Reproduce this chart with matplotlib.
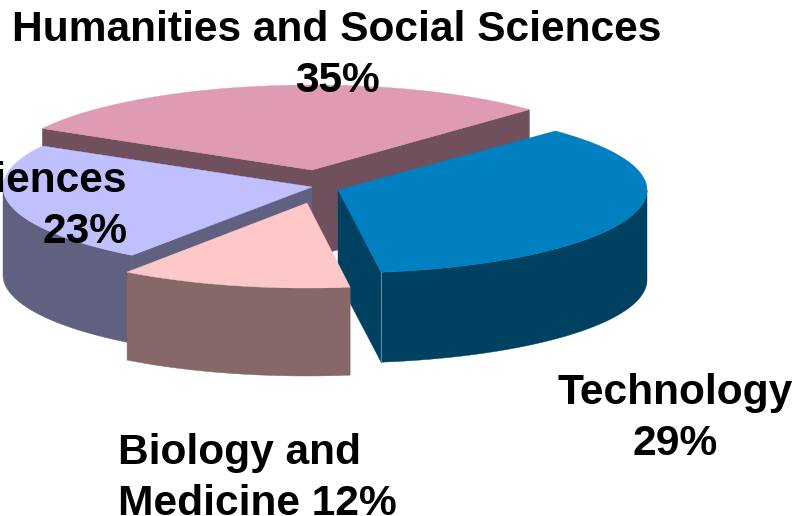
import numpy as np
import matplotlib
matplotlib.use("Agg")
import matplotlib.pyplot as plt
from matplotlib.patches import Polygon

# slice sizes as drawn, counter clockwise from the back right edge
slice_names = ["Humanities", "Sciences", "Biology", "Technology"]
slice_sizes = [29, 23, 12, 35]

# label text as printed in the chart
label_humanities = ["Humanities and Social Sciences", "35%"]
label_sciences = ["Natural Sciences", "23%"]
label_biology = ["Biology and", "Medicine 12%"]
label_technology = ["Technology", "29%"]

top_colors = ["#DF9AB4", "#C0C0FF", "#FFC8C8", "#0080C0"]
wall_colors = ["#6F505C", "#606080", "#866868", "#004060"]

# pixel layout of the exploded pie
centers = [(312, 170), (312, 187), (307, 203), (338, 190)]
radii_y = [85, 84, 85, 83]
depths = [87, 88, 88, 90]
RX = 309
START = 45.3

plt.rcParams["font.family"] = ["Liberation Sans", "DejaVu Sans"]
fig = plt.figure(figsize=(7.96, 5.16), dpi=100)
ax = fig.add_axes([0, 0, 1, 1])
ax.set_xlim(0, 796)
ax.set_ylim(516, 0)
ax.axis("off")


def rim(i, t0, t1):
  c = centers[i]
  t = np.radians(np.linspace(t0, t1, max(int(abs(t1 - t0)) * 2, 2)))
  return np.column_stack([c[0] + RX * np.cos(t), c[1] - radii_y[i] * np.sin(t)])


def wall(i, pts):
  low = pts[::-1] + [0, depths[i]]
  ax.add_patch(Polygon(np.vstack([pts, low]), closed=True,
                       fc=wall_colors[i], ec=wall_colors[i], lw=0.3))


def draw_slice(i, a0, a1, inner):
  apex = np.array([centers[i]], dtype=float)
  for ang in inner:
    wall(i, np.vstack([apex, rim(i, ang, ang)[:1]]))
  front0, front1 = max(a0, 180), min(a1, 360)
  if front1 > front0:
    wall(i, rim(i, front0, front1))
  ax.add_patch(Polygon(np.vstack([apex, rim(i, a0, a1)]), closed=True,
                       fc=top_colors[i], ec=top_colors[i], lw=0.3))


edges = START + np.cumsum([0] + slice_sizes) * 360 / sum(slice_sizes)

# back to front, the biology slice has no side wall on its cut edges
draw_slice(0, edges[0], edges[1], [edges[0], edges[1]])
draw_slice(3, edges[3], edges[4], [edges[3]])
draw_slice(1, edges[1], edges[2], [edges[2]])
draw_slice(2, edges[2], edges[3], [])

# faint highlight at the corner of the technology wall
corner = rim(3, edges[3], edges[3])[0]
ax.plot([corner[0], corner[0]], [corner[1], corner[1] + depths[3]], color="#5F8AA0", lw=0.8)


def put_label(lines, x, y0, ha):
  for k, s in enumerate(lines):
    ax.text(x, y0 + k * 51, s, ha=ha, va="baseline", fontsize=30.6,
            fontweight="bold", color="black")


put_label(label_humanities, 337, 41, "center")
put_label(label_sciences, 127, 192, "right")
put_label(label_biology, 118, 464, "left")
put_label(label_technology, 675, 404, "center")

fig.savefig("out.png", dpi=100)
